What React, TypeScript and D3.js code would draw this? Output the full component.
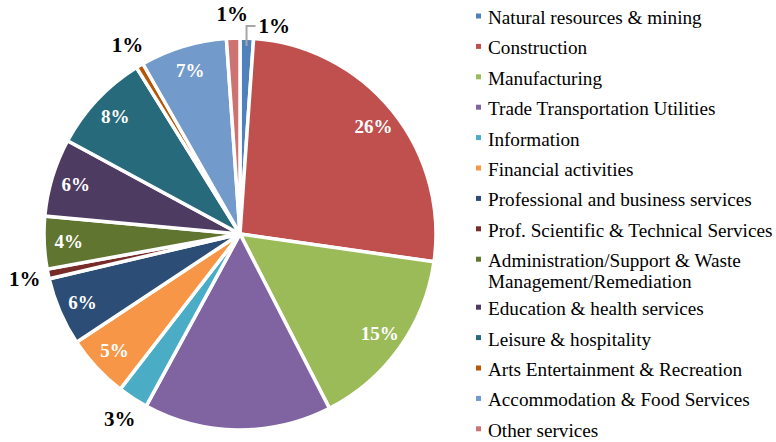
import React from "react";
import * as d3 from "d3";

const categories = [
  "Natural resources & mining",
  "Construction",
  "Manufacturing",
  "Trade Transportation Utilities",
  "Information",
  "Financial activities",
  "Professional and business services",
  "Prof. Scientific & Technical Services",
  "Administration/Support & Waste Management/Remediation",
  "Education & health services",
  "Leisure & hospitality",
  "Arts Entertainment & Recreation",
  "Accommodation & Food Services",
  "Other services",
];

const legendLines = [
  ["Natural resources & mining"],
  ["Construction"],
  ["Manufacturing"],
  ["Trade Transportation Utilities"],
  ["Information"],
  ["Financial activities"],
  ["Professional and business services"],
  ["Prof. Scientific & Technical Services"],
  ["Administration/Support & Waste", "Management/Remediation"],
  ["Education & health services"],
  ["Leisure & hospitality"],
  ["Arts Entertainment & Recreation"],
  ["Accommodation & Food Services"],
  ["Other services"],
];

const values = [1.1, 26.0, 15.1, 15.4, 2.5, 5.2, 5.6, 0.8, 4.3, 6.4, 8.2, 0.6, 7.1, 1.1];

// label placement: "in" inside slice, "out" outside, "leader" outside with leader line, "none"
const labelPlacement = ["leader", "in", "in", "none", "out", "in", "in", "out", "in", "in", "in", "out", "in", "out"];

const colors = [
  "#4F81BD",
  "#C0504D",
  "#9BBB59",
  "#8064A2",
  "#4BACC6",
  "#F79646",
  "#2C4D75",
  "#772C2A",
  "#5F7530",
  "#4D3B62",
  "#276A7C",
  "#B65708",
  "#729ACA",
  "#CD7371",
];

const W = 776;
const H = 442;
const cx = 240;
const cy = 234;
const R = 196;
const fam = "Liberation Serif";
const BASE = 24;

export default function App() {
  const total = d3.sum(values);
  const pie = d3.pie<number>().sort(null).value((d) => d)(values);
  const arc = d3.arc<d3.PieArcDatum<number>>().innerRadius(0).outerRadius(R);
  const inArc = d3.arc<d3.PieArcDatum<number>>().innerRadius(R * 0.875).outerRadius(R * 0.875);
  const outArc = d3.arc<d3.PieArcDatum<number>>().innerRadius(R + 24).outerRadius(R + 24);
  const fmt = (v: number) => `${Math.round((v / total) * 100)}%`;

  let y = 24;
  const legendY: number[][] = legendLines.map((lines) => {
    const ys = lines.map((_, j) => y + j * 21);
    y += 30.4 + (lines.length - 1) * 17.6;
    return ys;
  });

  const txtStyle = { fontFamily: `"${fam}"`, fontSize: `${BASE}px` };
  const bold = { fontFamily: `"${fam}"`, fontSize: `${BASE}px`, fontWeight: "bold" as const };

  // text drawn at BASE px and scaled to the wanted size
  const sc = (size: number) => size / BASE;

  return (
    <svg width={W} height={H} style={{ position: "absolute", left: 0, top: 0 }}>
      <rect width={W} height={H} fill="#fff" />
      <g>
        {categories.map((c, i) => (
          <g key={c}>
            <rect x={476} y={legendY[i][0] - 10.5} width={5} height={5} fill={colors[i]} />
            {legendLines[i].map((ln, j) => (
              <text key={j} transform={`translate(488,${legendY[i][j]}) scale(${sc(19.2)})`} fill="#000" style={txtStyle}>
                {ln}
              </text>
            ))}
          </g>
        ))}
      </g>
      <g transform={`translate(${cx},${cy})`}>
        {pie.map((p, i) => (
          <path key={i} d={arc(p) || ""} fill={colors[i]} stroke="#fff" strokeWidth={3.5} strokeLinejoin="miter" />
        ))}
        {pie.map((p, i) => {
          const pl = labelPlacement[i];
          if (pl === "none") return null;
          if (pl === "in") {
            const [x, yy] = inArc.centroid(p);
            return (
              <text key={"l" + i} transform={`translate(${x},${yy}) scale(${sc(19)})`} dy="0.35em" textAnchor="middle" fill="#fff" style={bold}>
                {fmt(values[i])}
              </text>
            );
          }
          if (pl === "out") {
            const [x, yy] = outArc.centroid(p);
            return (
              <text key={"l" + i} transform={`translate(${x},${yy}) scale(${sc(21)})`} dy="0.35em" textAnchor="middle" fill="#000" style={bold}>
                {fmt(values[i])}
              </text>
            );
          }
          const mid = (p.startAngle + p.endAngle) / 2;
          const ax = (R - 8) * Math.sin(mid);
          const ay = -(R - 8) * Math.cos(mid);
          const ty = -R - 12;
          return (
            <g key={"l" + i}>
              <polyline points={`${ax},${ay} ${ax},${ty} ${ax + 9},${ty}`} fill="none" stroke="#A6A6A6" strokeWidth={2} />
              <text transform={`translate(${ax + 12},${ty}) scale(${sc(21)})`} dy="0.35em" textAnchor="start" fill="#000" style={bold}>
                {fmt(values[i])}
              </text>
            </g>
          );
        })}
      </g>
    </svg>
  );
}
